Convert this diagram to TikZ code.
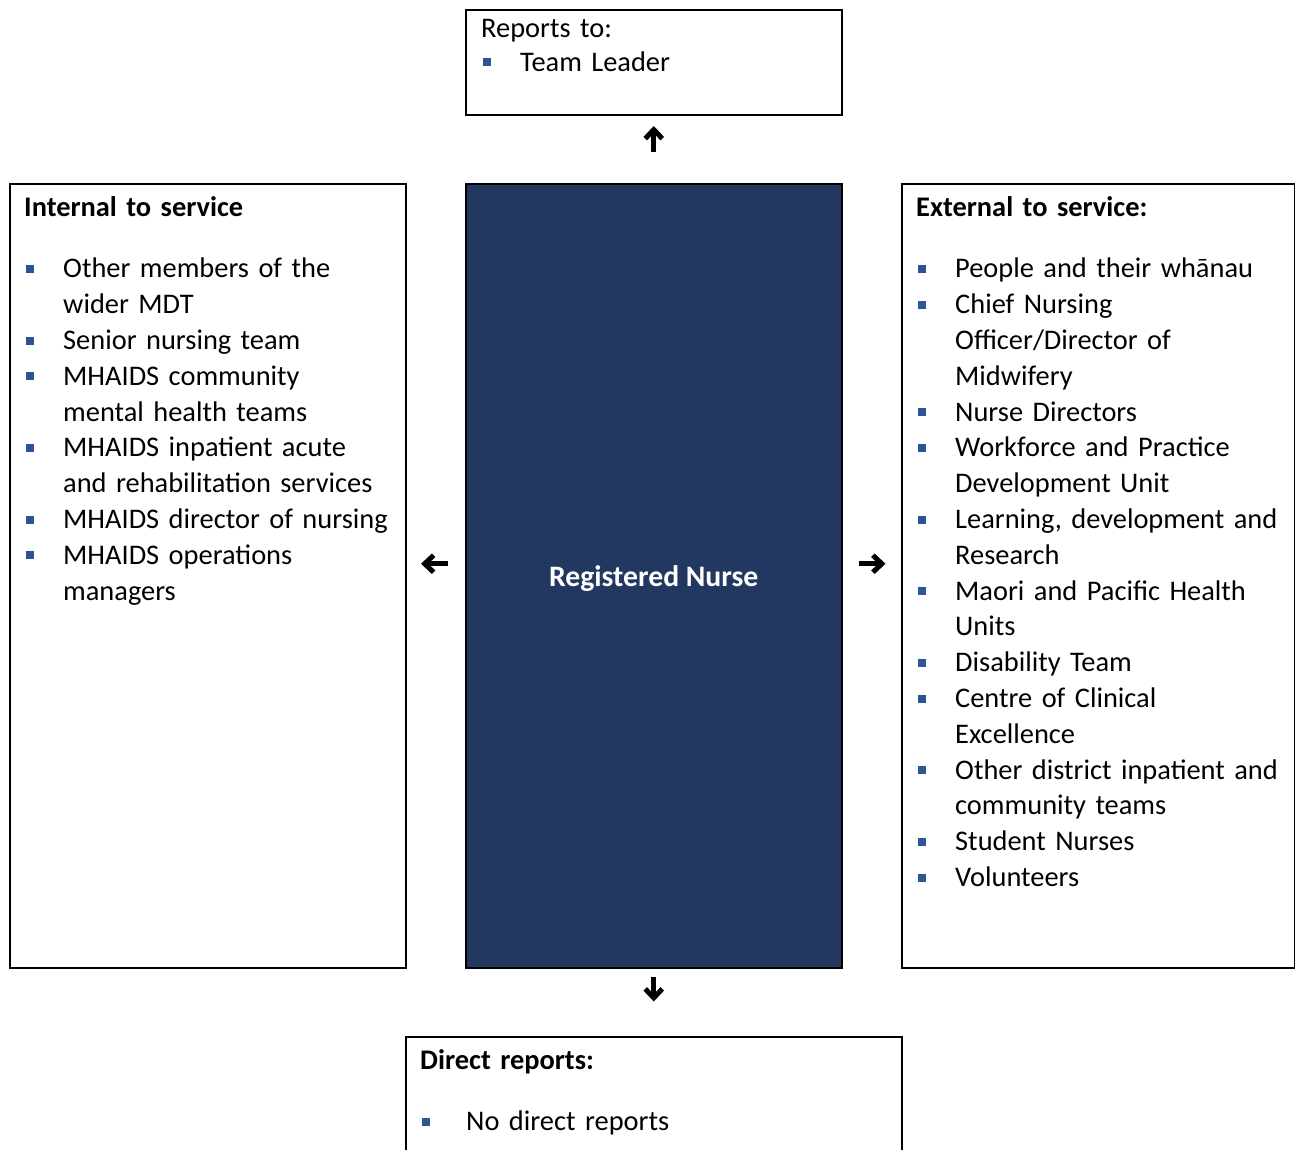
\documentclass[tikz,border=0pt]{standalone}
\usepackage{fontspec}
\setmainfont{Carlito}
\usetikzlibrary{arrows.meta}

\definecolor{navy}{RGB}{34,56,96}
\definecolor{bulblue}{RGB}{47,84,150}

% bullet item with hanging indent
\newcommand{\bitem}[2][39pt]{\par\hangindent=#1\hangafter=1\noindent\makebox[#1][l]{\hspace{2pt}\textcolor{bulblue}{\rule[5pt]{8pt}{8pt}}}#2}

\tikzset{
	box/.style={draw, line width=1.5pt, anchor=north west, inner sep=0pt},
	listtext/.style={anchor=north west, inner sep=0pt, text width=#1,
		font=\fontsize{28.4}{35.8}\selectfont\raggedright},
	arr/.style={line width=5pt, -{Straight Barb[length=9pt, width=17pt, line width=5pt]}}
}

\begin{document}
\begin{tikzpicture}[x=1pt, y=-1pt]

		\useasboundingbox (0,0) rectangle (1295,1149);

		% Boxes
		\node[box, minimum width=376pt, minimum height=105pt] (top) at (465,9) {};
		\node[box, minimum width=396pt, minimum height=784pt] (int) at (9,183) {};
		\node[box, minimum width=376pt, minimum height=784pt, fill=navy] (rn) at (465,183) {};
		\node[box, minimum width=393pt, minimum height=784pt] (ext) at (901,183) {};
		\node[box, minimum width=496pt, minimum height=150pt] (dir) at (405,1036) {};

		% Centre label
		\node[text=white, font=\fontsize{29.7}{34}\selectfont\bfseries] (rnlabel) at ([yshift=-3pt] rn.center) {Registered Nurse};

		% Texts
		\node[listtext=330pt] (toptext) at (481,19) {Reports to:\par\vspace{-2pt}
			\bitem{Team Leader}\par};

		\node[listtext=385pt] (inttext) at (24,196) {\textbf{Internal to service}\par\vspace{26pt}
			\bitem{Other members of the\newline wider MDT}
			\bitem{Senior nursing team}
			\bitem{MHAIDS community\newline mental health teams}
			\bitem{MHAIDS inpatient acute\newline and rehabilitation services}
			\bitem{MHAIDS director of nursing}
			\bitem{MHAIDS operations\newline managers}\par};

		\node[listtext=385pt] (exttext) at (916,196) {\textbf{External to service:}\par\vspace{26pt}
			\bitem{People and their whānau}
			\bitem{Chief Nursing\newline Officer/Director of\newline Midwifery}
			\bitem{Nurse Directors}
			\bitem{Workforce and Practice\newline Development Unit}
			\bitem{Learning, development and\newline Research}
			\bitem{Maori and Pacific Health\newline Units}
			\bitem{Disability Team}
			\bitem{Centre of Clinical\newline Excellence}
			\bitem{Other district inpatient and\newline community teams}
			\bitem{Student Nurses}
			\bitem{Volunteers}\par};

		\node[listtext=470pt] (dirtext) at (420,1049) {\textbf{Direct reports:}\par\vspace{26pt}
			\bitem[46pt]{No direct reports}\par};

		% Arrows
		\coordinate (upS) at ([yshift=31pt] rn.north);
		\coordinate (upE) at ([yshift=57pt] rn.north);
		\coordinate (dnS) at ([yshift=-8pt] rn.south);
		\coordinate (dnE) at ([yshift=-33pt] rn.south);
		\coordinate (ltS) at ([xshift=-17pt, yshift=12pt] rn.west);
		\coordinate (ltE) at ([xshift=-44pt, yshift=12pt] rn.west);
		\coordinate (rtS) at ([xshift=16pt, yshift=12pt] rn.east);
		\coordinate (rtE) at ([xshift=43pt, yshift=12pt] rn.east);
		\draw[arr] (upS) -- (upE);
		\draw[arr] (dnS) -- (dnE);
		\draw[arr] (ltS) -- (ltE);
		\draw[arr] (rtS) -- (rtE);

	\end{tikzpicture}
\end{document}
